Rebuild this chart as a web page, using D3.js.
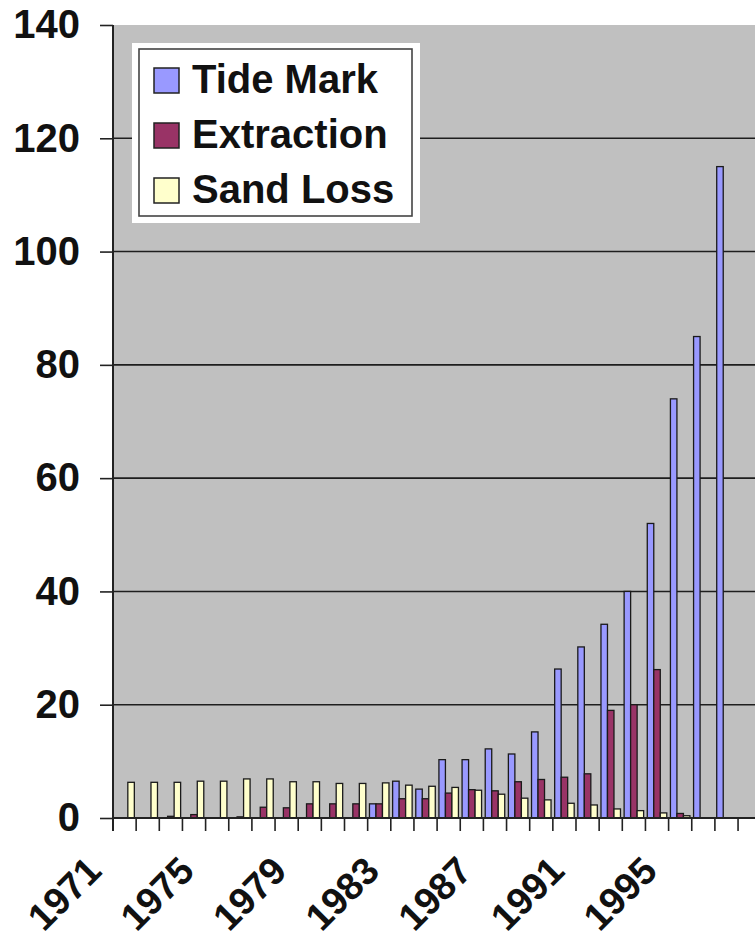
<!DOCTYPE html>
<html lang="en">
<head>
    <meta charset="UTF-8">
    <title>Tide Mark, Extraction, Sand Loss</title>
    <script src="https://d3js.org/d3.v7.min.js"></script>
    <style>
        html, body {
            margin: 0;
            padding: 0;
            background: #fff;
        }
        svg {
            display: block;
            font-family: "Liberation Sans", Arial, sans-serif;
            font-weight: bold;
        }
    </style>
</head>
<body>
    <svg id="chart"></svg>

    <script>
        // values
        const years = d3.range(1971, 1998);
        const seriesNames = ["Tide Mark", "Extraction", "Sand Loss"];
        const tideMark = [0, 0, 0, 0, 0, 0, 0, 0, 0, 0, 0, 2.5, 6.5, 5.1, 10.3, 10.3, 12.2, 11.3, 15.2, 26.3, 30.2, 34.2, 40, 52, 74, 85, 115];
        const extraction = [0, 0, 0.3, 0.6, 0, 0.2, 1.9, 1.8, 2.5, 2.5, 2.5, 2.5, 3.4, 3.4, 4.4, 5.0, 4.8, 6.4, 6.8, 7.2, 7.8, 19, 20, 26.2, 0.8, 0, 0];
        const sandLoss = [6.3, 6.3, 6.3, 6.5, 6.5, 6.9, 6.9, 6.4, 6.4, 6.1, 6.1, 6.2, 5.8, 5.6, 5.4, 4.9, 4.2, 3.5, 3.2, 2.6, 2.3, 1.6, 1.3, 0.9, 0.4, 0, 0];
        const yTicks = [0, 20, 40, 60, 80, 100, 120, 140];
        const xLabelYears = [1971, 1975, 1979, 1983, 1987, 1991, 1995];
        const colors = ["#9999ff", "#993366", "#ffffcc"];

        const width = 755, height = 938;
        const plotLeft = 113, plotTop = 25, plotBottom = 818;
        const step = 23.15;

        const svg = d3.select("#chart")
            .attr("width", width)
            .attr("height", height);

        const x0 = d3.scaleBand()
            .domain(years)
            .range([plotLeft, plotLeft + years.length * step])
            .padding(0);

        const x1 = d3.scaleBand()
            .domain(seriesNames)
            .range([0, x0.bandwidth()])
            .paddingInner(0)
            .paddingOuter(0.28);

        const y = d3.scaleLinear()
            .domain([0, 140])
            .range([plotBottom, plotTop]);

        const color = d3.scaleOrdinal().domain(seriesNames).range(colors);

        // plot area
        svg.append("rect")
            .attr("x", plotLeft)
            .attr("y", plotTop)
            .attr("width", width - plotLeft)
            .attr("height", plotBottom - plotTop)
            .attr("fill", "#c0c0c0");

        // gridlines
        svg.append("g")
            .selectAll("line")
            .data(yTicks.filter(d => d > 0 && d < 140))
            .join("line")
            .attr("x1", plotLeft)
            .attr("x2", width)
            .attr("y1", d => y(d))
            .attr("y2", d => y(d))
            .attr("stroke", "#1e1e1e")
            .attr("stroke-width", 1.6);

        // bars
        const table = years.map((yr, i) => ({
            year: yr,
            values: [tideMark[i], extraction[i], sandLoss[i]]
        }));

        svg.append("g")
            .selectAll("g")
            .data(table)
            .join("g")
            .attr("transform", d => `translate(${x0(d.year)},0)`)
            .selectAll("rect")
            .data(d => d.values.map((v, k) => ({ key: seriesNames[k], value: v })).filter(d => d.value > 0))
            .join("rect")
            .attr("x", d => x1(d.key))
            .attr("y", d => y(d.value))
            .attr("width", x1.bandwidth())
            .attr("height", d => y(0) - y(d.value))
            .attr("fill", d => color(d.key))
            .attr("stroke", "#1a1a1a")
            .attr("stroke-width", 1.3);

        // y axis
        const yAxis = svg.append("g")
            .attr("transform", `translate(${plotLeft},0)`)
            .call(d3.axisLeft(y).tickValues(yTicks).tickSize(13).tickPadding(20));
        yAxis.select(".domain").attr("stroke", "#222").attr("stroke-width", 2)
            .attr("d", `M0,${plotTop}V${plotBottom + 13}`);
        yAxis.selectAll(".tick line").attr("stroke", "#222").attr("stroke-width", 1.6);
        yAxis.selectAll(".tick text")
            .attr("font-size", 40)
            .attr("font-weight", "bold")
            .attr("font-family", "'Liberation Sans', Arial, sans-serif")
            .attr("fill", "#111");

        // x axis: ticks between categories
        const bounds = years.map(yr => x0(yr)).concat([x0(years[years.length - 1]) + x0.bandwidth()]);
        svg.append("line")
            .attr("x1", plotLeft)
            .attr("x2", width)
            .attr("y1", plotBottom)
            .attr("y2", plotBottom)
            .attr("stroke", "#222")
            .attr("stroke-width", 2);
        svg.append("g")
            .selectAll("line")
            .data(bounds.slice(1))
            .join("line")
            .attr("x1", d => d)
            .attr("x2", d => d)
            .attr("y1", plotBottom)
            .attr("y2", plotBottom + 13)
            .attr("stroke", "#222")
            .attr("stroke-width", 1.6);

        svg.append("g")
            .selectAll("text")
            .data(xLabelYears)
            .join("text")
            .attr("transform", d => `translate(${x0(d) + x0.bandwidth() / 2 - 21},873) rotate(-45)`)
            .attr("text-anchor", "end")
            .attr("font-size", 38)
            .attr("fill", "#111")
            .text(d => d);

        // legend
        const legend = svg.append("g");
        legend.append("rect")
            .attr("x", 132).attr("y", 43)
            .attr("width", 288).attr("height", 180)
            .attr("fill", "#fff");
        legend.append("rect")
            .attr("x", 139).attr("y", 49)
            .attr("width", 273).attr("height", 167)
            .attr("fill", "#fff")
            .attr("stroke", "#444")
            .attr("stroke-width", 1.6);

        const items = legend.selectAll("g.item")
            .data(seriesNames)
            .join("g")
            .attr("class", "item")
            .attr("transform", (d, i) => `translate(154,${68 + i * 55})`);
        items.append("rect")
            .attr("width", 25).attr("height", 25)
            .attr("fill", d => color(d))
            .attr("stroke", "#222")
            .attr("stroke-width", 1.5);
        items.append("text")
            .attr("x", 38)
            .attr("y", 25)
            .attr("font-size", 40)
            .attr("fill", "#111")
            .text(d => d);
    </script>
</body>
</html>
